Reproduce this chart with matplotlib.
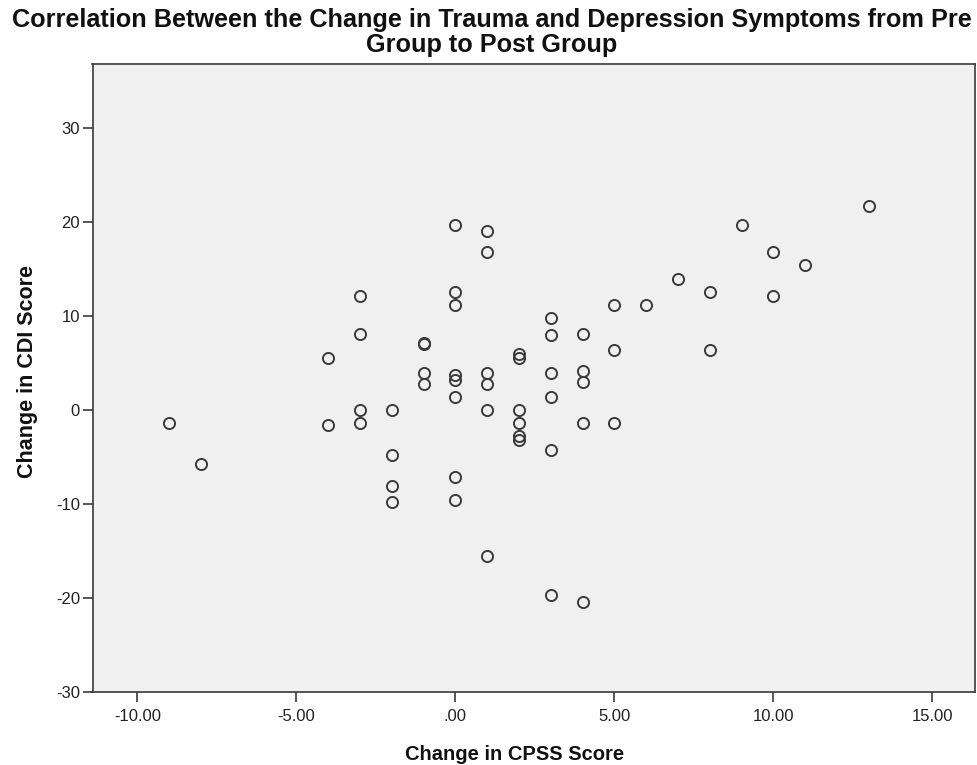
import matplotlib
matplotlib.use("Agg")
import matplotlib.pyplot as plt

cpss_change = [-9, -8, -4, -4, -3, -3, -3, -3, -2, -2, -2, -2, -1, -1, -1, -1,
               0, 0, 0, 0, 0, 0, 0, 0, 1, 1, 1, 1, 1, 1, 2, 2, 2, 2, 2, 2,
               3, 3, 3, 3, 3, 3, 4, 4, 4, 4, 4, 5, 5, 5, 6, 7, 8, 8, 9, 10, 10, 11, 13]
cdi_change = [-1.4, -5.7, 5.6, -1.6, 12.2, 8.1, 0, -1.4, 0, -4.8, -8.1, -9.8, 7.2, 7.0, 4.0, 2.8,
              19.7, 12.6, 11.2, 3.7, 3.2, 1.4, -7.1, -9.5, 19.1, 16.8, 4.0, 2.8, 0, -15.5,
              6.0, 5.6, 0, -1.4, -2.7, -3.2, 9.8, 8.0, 4.0, 1.4, -4.2, -19.7,
              8.1, 4.2, 3.0, -1.4, -20.4, 11.2, 6.4, -1.4, 11.2, 14.0, 12.6, 6.4, 19.7, 16.8, 12.2, 15.4, 21.7]

x_ticks = [-10, -5, 0, 5, 10, 15]
x_tick_labels = ["-10.00", "-5.00", ".00", "5.00", "10.00", "15.00"]
y_ticks = [-30, -20, -10, 0, 10, 20, 30]
y_tick_labels = ["-30", "-20", "-10", "0", "10", "20", "30"]

title_lines = ["Correlation Between the Change in Trauma and Depression Symptoms from Pre",
               "Group to Post Group"]
x_label = "Change in CPSS Score"
y_label = "Change in CDI Score"

plt.rcParams['font.family'] = ['Liberation Sans', 'DejaVu Sans']

W, H = 977, 765
fig = plt.figure(figsize=(W / 100, H / 100), dpi=100)
ax = fig.add_axes([92.5 / W, 1 - 692.3 / H, (975 - 92.5) / W, (692.3 - 64.3) / H])
ax.set_facecolor('#f0f0f0')

ax.plot(cpss_change, cdi_change, linestyle='none', marker='o', markersize=8,
        markerfacecolor='none', markeredgecolor='#3a3a3a', markeredgewidth=1.4)

ax.set_xlim(-11.415, 16.34)
ax.set_ylim(-30, 36.8)
ax.set_xticks(x_ticks)
ax.set_xticklabels(x_tick_labels)
ax.set_yticks(y_ticks)
ax.set_yticklabels(y_tick_labels)

for s in ax.spines.values():
    s.set_color('#3a3a3a')
    s.set_linewidth(1.2)
ax.tick_params(axis='both', direction='out', width=1.2, color='#3a3a3a',
               labelsize=12, labelcolor='#222222')
ax.tick_params(axis='x', length=7, pad=5)
ax.tick_params(axis='y', length=7, pad=2)

title_baselines = [27, 52]
for line, yb in zip(title_lines, title_baselines):
    fig.text(492 / W, 1 - yb / H, line, ha='center', va='baseline', fontsize=18.2,
             fontweight='bold', color='#111111')

ax.set_xlabel(x_label, fontsize=14.5, fontweight='bold', color='#111111')
ax.xaxis.set_label_coords((515 - 92.5) / (975 - 92.5), -(760 - 692.3) / (692.3 - 64.3))
ax.xaxis.label.set_va('baseline')
ax.set_ylabel(y_label, fontsize=15.5, fontweight='bold', color='#111111')
ax.yaxis.set_label_coords(-(92.5 - 28) / (975 - 92.5), (692.3 - 371.5) / (692.3 - 64.3))
ax.yaxis.label.set_va('center')

fig.savefig('out.png', dpi=100, facecolor='white')
